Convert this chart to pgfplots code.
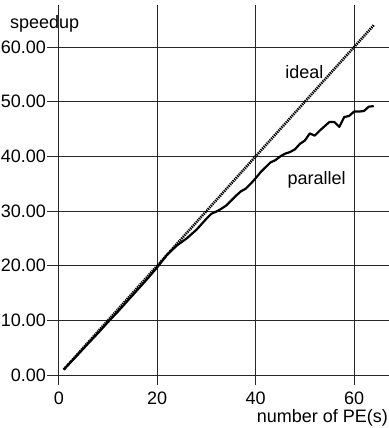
\documentclass[border=0pt]{standalone}
\usepackage{pgfplots}
\pgfplotsset{compat=1.18}
\usepackage{fontspec}
\setmainfont{Liberation Sans}

% measured speedup of the parallel run
\pgfplotstableread{
pe speedup
1 1.0
2 1.95
3 2.9
4 3.85
6 5.8
8 7.7
10 9.7
12 11.6
14 13.6
16 15.6
18 17.6
20 19.7
22 22.0
24 23.7
26 25.0
28 26.6
29 27.6
30 28.6
31 29.5
32 29.9
33 30.4
34 31.0
35 31.9
36 32.8
37 33.6
38 34.1
39 35.0
40 36.0
41 37.1
42 38.0
43 38.9
44 39.3
45 40.0
46 40.5
47 40.8
48 41.3
49 42.3
50 42.9
51 44.2
52 43.8
53 44.7
54 45.5
55 46.3
56 46.3
57 45.4
58 47.2
59 47.4
60 48.2
61 48.2
62 48.3
63 49.1
64 49.2
}\paralleldata

% ideal (linear) speedup
\pgfplotstableread{
pe speedup
1 1
64 64
}\idealdata

\begin{document}
\begin{tikzpicture}[x=1bp,y=1bp,font=\fontsize{18bp}{21bp}\selectfont]
\begin{axis}[
  at={(0,0)}, anchor=south west,
  scale only axis,
  width=342bp, height=380bp,
  xmin=-2.4, xmax=67.1,
  ymin=-1.83, ymax=67.7,
  xtick={0,20,40,60},
  ytick={0,10,20,30,40,50,60},
  grid=major,
  major grid style={black!85, line width=0.8bp},
  axis line style={draw=none},
  major tick length=0pt,
  /pgf/number format/assume math mode=true,
  yticklabel style={/pgf/number format/fixed, /pgf/number format/fixed zerofill, /pgf/number format/precision=2},
  yticklabel style={anchor=east, inner sep=0pt, xshift=-1bp},
  xticklabel style={anchor=north, inner sep=0pt, yshift=-7bp},
  clip=false,
]
\addplot[black, line width=2.6bp, dash pattern=on 1.3bp off 0.9bp] table[x=pe, y=speedup] {\idealdata};
\addplot[black, line width=2.2bp, line join=round] table[x=pe, y=speedup] {\paralleldata};
\node[anchor=base] at (axis cs:49.9,54.3) {ideal};
\node[anchor=base] at (axis cs:52.4,34.9) {parallel};
\end{axis}
\node[anchor=base west, inner sep=0pt] at (-37,357) {speedup};
\node[anchor=base east, inner sep=0pt] at (341,-37) {number of PE(s)};
\pgfresetboundingbox
\path[use as bounding box] (-47,-43) rectangle (342,385);
\end{tikzpicture}
\end{document}
